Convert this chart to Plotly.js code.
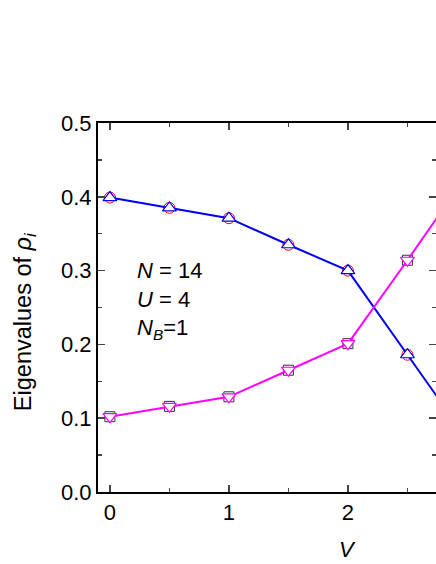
<!DOCTYPE html>
<html>
<head>
<meta charset="utf-8">
<script src="https://cdn.plot.ly/plotly-3.0.1.min.js"></script>
<style>
  body { margin: 0; background: #fff; }
  #chart { width: 436px; height: 564px; }
</style>
</head>
<body>
<div id="chart"></div>
<script>
// V values
var vValues = [0, 0.5, 1, 1.5, 2, 2.5, 3];

// largest eigenvalue (blue triangles, red circles behind)
var rhoUpper = [0.399, 0.385, 0.371, 0.335, 0.300, 0.186, 0.072];
// second eigenvalue (magenta down-triangles, black squares behind)
var rhoLower = [0.102, 0.116, 0.129, 0.165, 0.201, 0.314, 0.430];

var fontName = 'Liberation Sans, Arial, sans-serif';

var traces = [
    {
        x: vValues, y: rhoUpper, mode: 'markers', type: 'scatter',
        marker: { symbol: 'circle-open', size: 11, color: 'red', line: { width: 1 } },
        showlegend: false
    },
    {
        x: vValues, y: rhoLower, mode: 'markers', type: 'scatter',
        marker: { symbol: 'square-open', size: 10, color: '#333', line: { width: 1 } },
        showlegend: false
    },
    {
        x: vValues, y: rhoUpper, mode: 'lines+markers', type: 'scatter',
        line: { color: '#0000f0', width: 2 },
        marker: { symbol: 'triangle-up', size: 12, color: 'white', line: { color: '#0000f0', width: 1.2 } },
        showlegend: false
    },
    {
        x: vValues, y: rhoLower, mode: 'lines+markers', type: 'scatter',
        line: { color: '#ff00ff', width: 2 },
        marker: { symbol: 'triangle-down', size: 12, color: 'white', line: { color: '#ff00ff', width: 1.2 } },
        showlegend: false
    }
];

var layout = {
    width: 436,
    height: 564,
    margin: { l: 98, r: 0, t: 123, b: 72 },
    paper_bgcolor: 'white',
    plot_bgcolor: 'white',
    font: { family: fontName, size: 22, color: 'black' },
    xaxis: {
        range: [-0.1, 2.74],
        tickvals: [0, 1, 2],
        ticks: 'inside',
        ticklen: 7,
        tickwidth: 1.5,
        showline: true,
        linewidth: 2,
        linecolor: 'black',
        mirror: 'ticks',
        showgrid: false,
        zeroline: false,
        minor: { dtick: 0.5, tick0: 0, ticks: 'inside', ticklen: 4, tickwidth: 1.5, showgrid: false },
        tickfont: { size: 22 }
    },
    yaxis: {
        range: [0, 0.5],
        tickvals: [0, 0.1, 0.2, 0.3, 0.4, 0.5],
        ticktext: ['0.0', '0.1', '0.2', '0.3', '0.4', '0.5'],
        ticks: 'inside',
        ticklen: 7,
        tickwidth: 1.5,
        showline: true,
        linewidth: 2,
        linecolor: 'black',
        mirror: 'ticks',
        showgrid: false,
        zeroline: false,
        minor: { dtick: 0.05, tick0: 0, ticks: 'inside', ticklen: 4, tickwidth: 1.5, showgrid: false },
        tickfont: { size: 22 }
    },
    annotations: [
        {
            // y axis title, placed by hand so it sits a bit below the middle like the original
            xref: 'paper', yref: 'paper', x: -0.219, y: 0.463, xanchor: 'center', yanchor: 'middle',
            textangle: -90, text: 'Eigenvalues of <i>ρ</i><sub><i>i</i></sub>',
            showarrow: false, font: { size: 23.5 }
        },
        {
            xref: 'x', yref: 'paper', x: 2, y: -0.155, yanchor: 'middle',
            text: '<i>V</i>', showarrow: false, font: { size: 22 }
        },
        {
            xref: 'paper', yref: 'paper', x: 0.11, y: 0.64, xanchor: 'left', yanchor: 'top', align: 'left',
            text: '<i>N</i> = 14<br><i>U</i> = 4<br><i>N</i><sub><i>B</i></sub>=1',
            showarrow: false, font: { size: 22 }
        }
    ]
};

Plotly.newPlot('chart', traces, layout, { displayModeBar: false, staticPlot: true });
</script>
</body>
</html>
